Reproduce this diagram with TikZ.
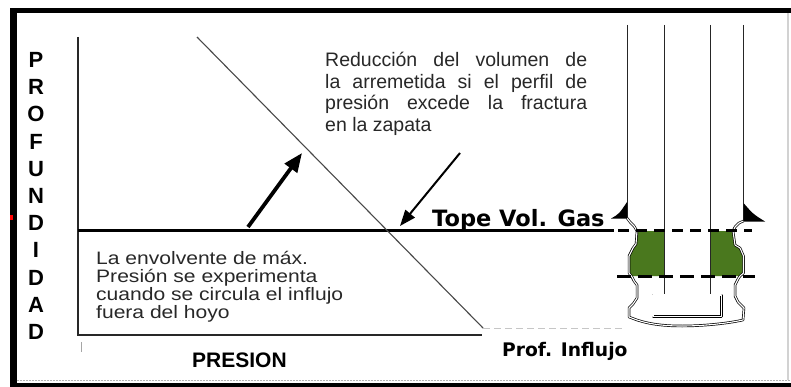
\documentclass[tikz,border=0pt]{standalone}
\usepackage{fontspec}
\setmainfont{Liberation Sans}
\newfontfamily\widesans{DejaVu Sans}
\usetikzlibrary{arrows.meta}
\definecolor{cementgreen}{RGB}{74,120,30}
\definecolor{inkgray}{RGB}{40,40,40}

\begin{document}
\begin{tikzpicture}[x=1pt,y=-1pt,
  vletter/.style={inner sep=0, font=\bfseries\fontsize{22}{22}\selectfont},
  notaline/.style={anchor=base west, inner sep=0, text=inkgray, font=\fontsize{19.5}{21}\selectfont},
  envline/.style={anchor=base west, inner sep=0, text=inkgray, font=\fontsize{18}{18}\selectfont},
  axisline/.style={draw=inkgray, line width=1.4},
  perfil/.style={draw=inkgray!85, line width=1.1},
  hole/.style={draw=black, line width=0.7, double=white, double distance=1.1, line join=round},
  pipe/.style={draw=black!85, line width=1},
  shoe/.style={fill=black},
  level/.style={draw=black, line width=3, dash pattern=on 11 off 7}
]
\useasboundingbox (0,0) rectangle (791,387);
\fill[white] (0,0) rectangle (791,387);

% outer frame
\fill[black] (10,8) rectangle (791,13.5);
\fill[black] (10,8) rectangle (16.5,387);
\fill[black] (10,383) rectangle (791,387);
\draw[gray!60, line width=1.5, dash pattern=on 2 off 1] (16.5,380.5) -- (791,380.5);
\draw[gray!35, line width=2] (788,13.5) -- (788,380);
\fill[red] (10,215) rectangle (13,220);

% vertical axis title
\foreach \ltr [count=\i] in {P,R,O,F,U,N,D,I,D,A,D}
  \node[vletter] (prof\i) at (36,{60+27.2*(\i-1)}) {\ltr};

% chart frame and levels
\coordinate (ejeTop) at (78,37);
\coordinate (ejeBase) at (78,335);
\coordinate (cajaFin) at (482,335);
\coordinate (topeIni) at (78,230.5);
\coordinate (topeFin) at (614,230.5);
\coordinate (perfilIni) at (197,37);
\coordinate (perfilFin) at (483,328);
\coordinate (influjoFin) at (624,328);
\coordinate (marcaA) at (81,342);
\coordinate (marcaB) at (81,352);

\draw[axisline] (ejeTop) -- (ejeBase) -- (cajaFin);
\draw[black, line width=3] (topeIni) -- (topeFin);
\draw[perfil] (perfilIni) -- (perfilFin);
\draw[gray!45, line width=1, dash pattern=on 7 off 4] (perfilFin) -- (influjoFin);
\draw[gray!70, line width=1] (marcaA) -- (marcaB);

% arrows
\coordinate (subeA) at (248,227);
\coordinate (subeB) at (302,153);
\coordinate (bajaA) at (460,153);
\coordinate (bajaB) at (400,226);
\draw[black, line width=3.8, -{Triangle[length=19pt,width=15pt]}] (subeA) -- (subeB);
\draw[black, line width=2, -{Triangle[length=16pt,width=12pt]}] (bajaA) -- (bajaB);

% texts
\foreach \t [count=\i] in {Reducción del volumen de, la arremetida si el perfil de, presión excede la fractura}
  \node[notaline] (nota\i) at (325,{67+21.5*(\i-1)}) {\makebox[262pt][s]{\t}};
\node[notaline] (nota4) at (325,131.5) {en la zapata};

\foreach \t [count=\i] in {La envolvente de máx., Presión se experimenta, cuando se circula el influjo, fuera del hoyo}
  \node[envline] (env\i) at (96,{264+18.3*(\i-1)}) {\scalebox{1.17}[1]{\t}};

\node[anchor=base west, inner sep=0, font=\widesans\bfseries\fontsize{22.5}{22.5}\selectfont] (tope) at (432,226) {Tope Vol. Gas};
\node[anchor=base west, inner sep=0, font=\widesans\bfseries\fontsize{18.7}{18.7}\selectfont] (influjo) at (502,356) {Prof. Influjo};
\node[anchor=base west, inner sep=0, font=\bfseries\fontsize{21}{21}\selectfont] (presion) at (192,367) {PRESION};

% cement behind the casing
\fill[cementgreen] (637,231) -- (664.5,231) -- (664.5,276) -- (632,276) -- (629,273) -- (629,256) -- (633,248) -- (636,244) -- cycle;
\fill[cementgreen] (710,231) -- (733,231) -- (735,245) -- (740,248) -- (743.5,256) -- (743.5,273) -- (740,276) -- (710,276) -- cycle;

% open hole wall
\draw[hole] (627,218) -- (630,222) -- (634,226) -- (637,231) -- (636,244) -- (633,248) -- (629,256) -- (629,273) -- (632,277)
  -- (634,281) -- (637,285) -- (637,298) -- (633,304) -- (629,308) -- (629,317) -- (637,320)
  .. controls (652,325) and (668,326) .. (682,326) .. controls (700,326) and (725,324) .. (743,320)
  -- (744,308) -- (738,302) -- (735,296) -- (735,285) -- (738,279) -- (740,276) -- (743.5,273) -- (743.5,256)
  -- (740,248) -- (735,245) -- (733,231) -- (735,227) -- (739,223) -- (743.5,221);

% casing and tubing
\coordinate (csgL) at (627,25);
\coordinate (csgR) at (743.5,25);
\draw[pipe] (csgL) -- (627,218);
\draw[pipe] (csgR) -- (743.5,221);
\draw[pipe] (664.5,25) -- (664.5,295);
\draw[pipe] (710,25) -- (710,295);
\draw[hole] (664.5,295) -- (653,295) -- (653,316.5) -- (721.5,316.5) -- (721.5,295) -- (710,295);

% gas top and influx levels
\draw[level] (618,230.5) -- (752,230.5);
\draw[level, dash pattern=on 14 off 7] (617,276) -- (755,276);

% casing shoes
\fill[shoe] (627,202) -- (627,218.5) -- (611,218.5) .. controls (619,214) .. (627,202) -- cycle;
\fill[shoe] (743.5,203) -- (743.5,221.5) -- (765,221.5) .. controls (753,214) .. (743.5,203) -- cycle;
\end{tikzpicture}
\end{document}
